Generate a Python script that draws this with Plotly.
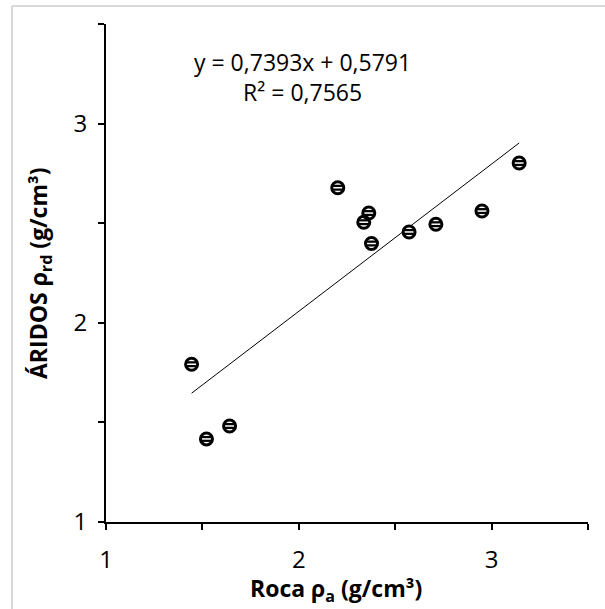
import plotly.graph_objects as go

# Data
roca_pa = [1.444, 1.521, 1.641, 2.202, 2.337, 2.363, 2.377, 2.572, 2.711, 2.950, 3.143]
aridos_prd = [1.792, 1.417, 1.482, 2.678, 2.505, 2.551, 2.398, 2.456, 2.495, 2.561, 2.802]

slope = 0.7393
intercept = 0.5791
r2 = 0.7565

tick_vals = [1, 1.5, 2, 2.5, 3, 3.5]
tick_text = ["1", "", "2", "", "3", ""]

FONT = "Open Sans"

trend_x = [min(roca_pa), max(roca_pa)]
trend_y = [slope * v + intercept for v in trend_x]

fig = go.Figure()

# trendline
fig.add_trace(go.Scatter(x=trend_x, y=trend_y, mode="lines",
                         line=dict(color="black", width=1), hoverinfo="skip"))
# marker: white fill
fig.add_trace(go.Scatter(x=roca_pa, y=aridos_prd, mode="markers",
                         marker=dict(symbol="circle", size=12, color="white",
                                     line=dict(width=0))))
# stripes
fig.add_trace(go.Scatter(x=roca_pa, y=aridos_prd, mode="markers", hoverinfo="skip",
                         marker=dict(symbol="line-ew", size=7, color="black",
                                     line=dict(width=6, color="black"))))
fig.add_trace(go.Scatter(x=roca_pa, y=aridos_prd, mode="markers", hoverinfo="skip",
                         marker=dict(symbol="line-ew", size=7, color="white",
                                     line=dict(width=1.5, color="white"))))
# outline ring
fig.add_trace(go.Scatter(x=roca_pa, y=aridos_prd, mode="markers", hoverinfo="skip",
                         marker=dict(symbol="circle-open", size=12, color="black",
                                     line=dict(width=3, color="black"))))

axis_common = dict(
    showline=True, linecolor="black", linewidth=2,
    ticks="outside", ticklen=6, tickwidth=2, tickcolor="black",
    showgrid=False, zeroline=False,
    tickmode="array", tickvals=tick_vals, ticktext=tick_text,
    tickfont=dict(family=FONT, size=24, color="black"),
    range=[1, 3.5],
)

fig.update_layout(
    width=605, height=609,
    margin=dict(l=106, r=17, t=24, b=87),
    paper_bgcolor="white", plot_bgcolor="white",
    showlegend=False,
    xaxis=dict(**axis_common, ticklabelstandoff=9),
    yaxis=dict(**axis_common, ticklabelstandoff=6),
    font=dict(family=FONT, color="black"),
)

annotations = [
    dict(text=f"y = {slope:.4f}x + {intercept:.4f}".replace(".", ",") + "<br>" +
              f"R² = {r2:.4f}".replace(".", ","),
         x=2.02, y=3.235, xref="x", yref="y", showarrow=False,
         font=dict(family=FONT, size=23, color="black"), align="center"),
    dict(text="<b>Roca ρ<sub>a</sub> (g/cm³)</b>", x=(336 - 106) / 482, y=-0.136,
         xref="paper", yref="paper", showarrow=False, xanchor="center", yanchor="middle",
         font=dict(family=FONT, size=23, color="black")),
    dict(text="<b>ÁRIDOS ρ<sub>rd</sub> (g/cm³)</b>", x=(39 - 106) / 482, y=0.5,
         xref="paper", yref="paper", showarrow=False, xanchor="center", yanchor="middle",
         textangle=-90, font=dict(family=FONT, size=23, color="black")),
]
fig.update_layout(annotations=annotations)

# chart area border (light gray): left and top edges only visible
bx = (12 - 106) / 482
by = (522 - 6) / 498
fig.add_shape(type="line", xref="paper", yref="paper", x0=bx, x1=bx, y0=-0.3, y1=by,
              line=dict(color="#d9d9d9", width=2), layer="below")
fig.add_shape(type="line", xref="paper", yref="paper", x0=bx, x1=1.3, y0=by, y1=by,
              line=dict(color="#d9d9d9", width=2), layer="below")

fig.write_html("out.html")
